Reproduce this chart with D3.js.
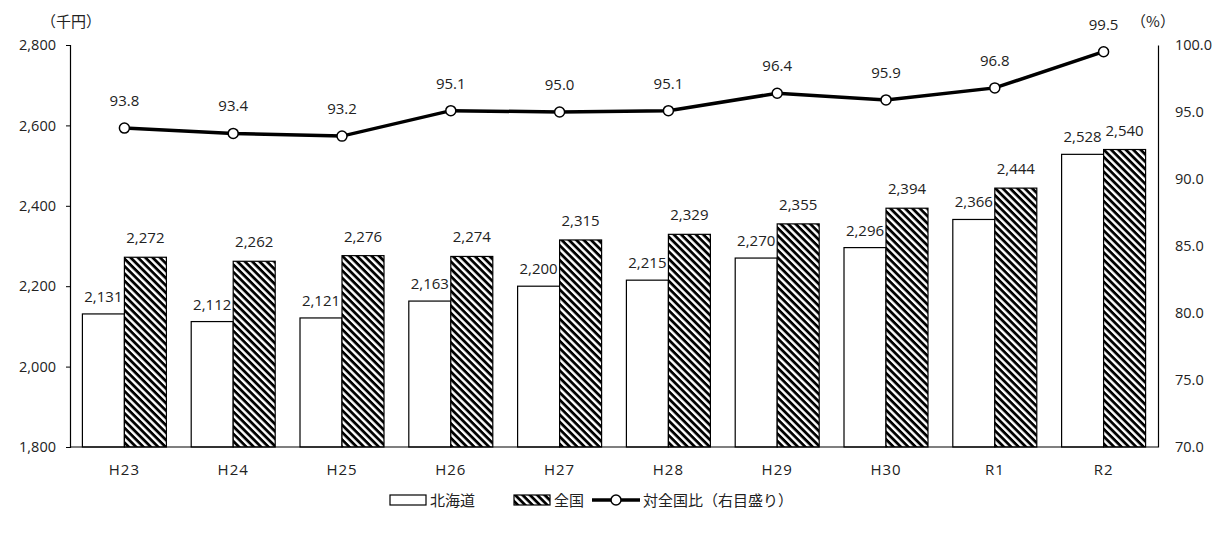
<!DOCTYPE html>
<html>
<head>
<meta charset="utf-8">
<script src="https://cdn.jsdelivr.net/npm/d3@7"></script>
<style>
  body { margin: 0; background: #fff; }
  svg text { font-family: "Noto Sans CJK JP", "Noto Sans", sans-serif; fill: #222; }
</style>
</head>
<body>
<div id="chart"></div>
<script>
// Fiscal years
const categories = ["H23", "H24", "H25", "H26", "H27", "H28", "H29", "H30", "R1", "R2"];
// Average income, thousand yen
const hokkaido = [2131, 2112, 2121, 2163, 2200, 2215, 2270, 2296, 2366, 2528];
const national = [2272, 2262, 2276, 2274, 2315, 2329, 2355, 2394, 2444, 2540];
// Hokkaido relative to national (%)
const ratio = [93.8, 93.4, 93.2, 95.1, 95.0, 95.1, 96.4, 95.9, 96.8, 99.5];
// Axis ticks
const leftTicks = [1800, 2000, 2200, 2400, 2600, 2800];
const rightTicks = [70, 75, 80, 85, 90, 95, 100];
const seriesNames = ["北海道", "全国", "対全国比（右目盛り）"];

const W = 1217, H = 538;
const plot = { left: 70, right: 1158, top: 45, bottom: 447 };

const svg = d3.select("#chart").append("svg")
  .attr("width", W).attr("height", H);

// Diagonal hatch (top-left to bottom-right) for national bars
const defs = svg.append("defs");
const pat = defs.append("pattern")
  .attr("id", "hatch")
  .attr("patternUnits", "userSpaceOnUse")
  .attr("width", 5.2).attr("height", 5.2)
  .attr("patternTransform", "rotate(45)");
pat.append("rect").attr("width", 5.2).attr("height", 5.2).attr("fill", "#fff");
pat.append("rect").attr("x", 0).attr("y", 0).attr("width", 5.2).attr("height", 2.8).attr("fill", "#000");

const x = d3.scaleBand().domain(categories).range([plot.left, plot.right]).padding(0);
const yL = d3.scaleLinear().domain([1800, 2800]).range([plot.bottom, plot.top]);
const yR = d3.scaleLinear().domain([70, 100]).range([plot.bottom, plot.top]);

const step = x.bandwidth();
const barW = step * 0.386;
const groupOff = (step - 2 * barW) / 2;
const fmt = d3.format(",");
const numFont = "'Open Sans', 'Noto Sans', sans-serif";

// Left axis
const leftAxis = svg.append("g")
  .attr("transform", `translate(${plot.left},0)`)
  .call(d3.axisLeft(yL).tickValues(leftTicks).tickFormat(fmt).tickSizeOuter(0).tickSize(4).tickPadding(10));
leftAxis.select(".domain").attr("stroke", "#000").attr("stroke-width", 1.2);
leftAxis.selectAll(".tick line").attr("stroke", "#000");
leftAxis.selectAll("text").style("font-size", "14.5px").style("font-family", numFont).attr("fill", "#222");

// Right axis
const rightAxis = svg.append("g")
  .attr("transform", `translate(${plot.right},0)`)
  .call(d3.axisRight(yR).tickValues(rightTicks).tickFormat(d3.format(".1f")).tickSizeOuter(0).tickSize(0).tickPadding(17));
rightAxis.select(".domain").attr("stroke", "#000").attr("stroke-width", 1.2);
rightAxis.selectAll("text").style("font-size", "14.5px").style("font-family", numFont).attr("fill", "#222");

// Bars
const g = svg.append("g");
g.selectAll("rect.hk").data(categories).join("rect")
  .attr("class", "hk")
  .attr("x", d => x(d) + groupOff)
  .attr("y", (d, i) => yL(hokkaido[i]))
  .attr("width", barW)
  .attr("height", (d, i) => yL(1800) - yL(hokkaido[i]))
  .attr("fill", "#fff").attr("stroke", "#000").attr("stroke-width", 1.2);

g.selectAll("rect.nt").data(categories).join("rect")
  .attr("class", "nt")
  .attr("x", d => x(d) + groupOff + barW)
  .attr("y", (d, i) => yL(national[i]))
  .attr("width", barW)
  .attr("height", (d, i) => yL(1800) - yL(national[i]))
  .attr("fill", "url(#hatch)").attr("stroke", "#000").attr("stroke-width", 1.2);

// Bottom axis line
svg.append("line")
  .attr("x1", plot.left).attr("x2", plot.right)
  .attr("y1", plot.bottom).attr("y2", plot.bottom)
  .attr("stroke", "#000").attr("stroke-width", 1.2);

// Bar value labels
g.selectAll("text.hkl").data(categories).join("text")
  .attr("x", d => x(d) + groupOff + barW / 2)
  .attr("y", (d, i) => yL(hokkaido[i]) - 12)
  .attr("text-anchor", "middle")
  .style("font-size", "15px").style("font-family", numFont)
  .text((d, i) => fmt(hokkaido[i]));
g.selectAll("text.ntl").data(categories).join("text")
  .attr("x", d => x(d) + groupOff + barW * 1.5)
  .attr("y", (d, i) => yL(national[i]) - 14)
  .attr("text-anchor", "middle")
  .style("font-size", "15px").style("font-family", numFont)
  .text((d, i) => fmt(national[i]));

// Category labels
svg.selectAll("text.cat").data(categories).join("text")
  .attr("x", d => x(d) + step / 2)
  .attr("y", plot.bottom + 28)
  .attr("text-anchor", "middle")
  .style("font-size", "15px").style("letter-spacing", "1px").style("font-family", numFont)
  .text(d => d);

// Ratio line
const line = d3.line()
  .x((d, i) => x(categories[i]) + step / 2)
  .y(d => yR(d));
svg.append("path").datum(ratio)
  .attr("d", line)
  .attr("fill", "none").attr("stroke", "#000").attr("stroke-width", 3.5);
svg.selectAll("circle.pt").data(ratio).join("circle")
  .attr("cx", (d, i) => x(categories[i]) + step / 2)
  .attr("cy", d => yR(d))
  .attr("r", 5)
  .attr("fill", "#fff").attr("stroke", "#000").attr("stroke-width", 1.5);
svg.selectAll("text.rl").data(ratio).join("text")
  .attr("x", (d, i) => x(categories[i]) + step / 2)
  .attr("y", d => yR(d) - 22)
  .attr("text-anchor", "middle")
  .style("font-size", "15px").style("font-family", numFont)
  .text(d => d.toFixed(1));

// Unit labels
svg.append("text").attr("x", 71).attr("y", 27).attr("text-anchor", "middle")
  .style("font-size", "15px").attr("fill", "#444").text("（千円）");
svg.append("text").attr("x", 1153).attr("y", 27).attr("text-anchor", "middle")
  .style("font-size", "15px").attr("fill", "#444").text("（%）");

// Legend
const lg = svg.append("g").attr("transform", "translate(0,500)");
lg.append("rect").attr("x", 390).attr("y", -5).attr("width", 36).attr("height", 10)
  .attr("fill", "#fff").attr("stroke", "#000").attr("stroke-width", 1.2);
lg.append("text").attr("x", 430).attr("y", 5.5).style("font-size", "15px").text(seriesNames[0]);
lg.append("rect").attr("x", 514).attr("y", -5).attr("width", 36).attr("height", 10)
  .attr("fill", "url(#hatch)").attr("stroke", "#000").attr("stroke-width", 1.2);
lg.append("text").attr("x", 554).attr("y", 5.5).style("font-size", "15px").text(seriesNames[1]);
lg.append("line").attr("x1", 592).attr("x2", 640).attr("y1", 0).attr("y2", 0)
  .attr("stroke", "#000").attr("stroke-width", 3.5);
lg.append("circle").attr("cx", 616).attr("cy", 0).attr("r", 5)
  .attr("fill", "#fff").attr("stroke", "#000").attr("stroke-width", 1.5);
lg.append("text").attr("x", 643).attr("y", 5.5).style("font-size", "15px").text(seriesNames[2]);
</script>
</body>
</html>
